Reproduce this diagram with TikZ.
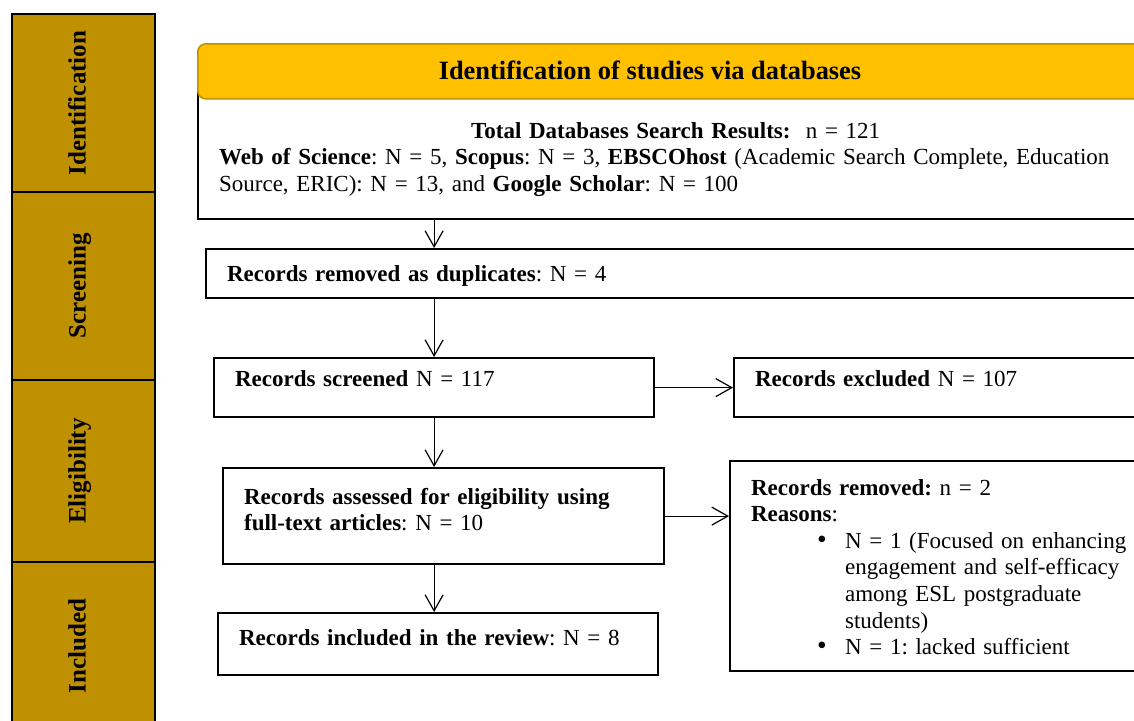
\documentclass[tikz,border=0pt]{standalone}
\usepackage{fontspec}
\setmainfont{Liberation Serif}
\usetikzlibrary{arrows.meta}
\definecolor{stagegold}{HTML}{BF9000}
\definecolor{bargold}{HTML}{FFC000}
\frenchspacing
\begin{document}
\begin{tikzpicture}[x=0.5pt,y=-0.5pt,>={Straight Barb[length=8pt,width=9pt]},
    font=\fontsize{11.5}{13.3}\selectfont,
    stage/.style={draw,line width=1pt,fill=stagegold,rotate=90,minimum height=71.5pt,inner sep=0pt,text height=9pt,text depth=7pt,font=\fontsize{12.5}{14}\selectfont\bfseries},
    bar/.style={draw=stagegold,line width=0.8pt,fill=bargold,rounded corners=4pt,anchor=north west,minimum width=480pt,minimum height=27.5pt},
    box/.style={draw,line width=1.1pt,anchor=north west,align=left,inner xsep=10.5pt,inner ysep=6pt,text height=10pt},
    link/.style={->,line width=0.6pt}]
    \useasboundingbox (0,0) rectangle (1134,720);
    \clip (0,0) rectangle (1134,720);
    % stages on the left
    \node[stage,minimum width=89pt] (ident) at (83.5,103) {Identification};
    \node[stage,minimum width=94pt] (scree) at (83.5,286) {Screening};
    \node[stage,minimum width=91pt] (eligi) at (83.5,471) {Eligibility};
    \node[stage,minimum width=84pt] (inclu) at (83.5,646) {Included};
    % boxes
    \node[box,text width=460pt,text height=17.5pt,text depth=34.5pt] (search) at (197,90)
        {\hspace*{126pt}\textbf{Total Databases Search Results:}~ n = 121\\
        \textbf{Web of Science}: N = 5, \textbf{Scopus}: N = 3, \textbf{EBSCOhost} (Academic Search Complete, Education\\
        Source, ERIC): N = 13, and \textbf{Google Scholar}: N = 100};
    \node[bar] (head) at (197,43) {};
    \node[font=\fontsize{13.2}{15}\selectfont\bfseries] (headtext) at (650,70) {Identification of studies via databases};
    \node[box,text width=452pt,text depth=2.5pt] (dup) at (205,248) {\textbf{Records removed as duplicates}: N = 4};
    \node[box,text width=199pt,text height=8pt,text depth=9.5pt] (screen) at (213,357) {\textbf{Records screened} N = 117};
    \node[box,text width=200pt,text height=8pt,text depth=9.5pt] (excl) at (733,357) {\textbf{Records excluded} N = 107};
    \node[box,text width=199.5pt,text height=12pt,text depth=24pt] (assess) at (222,467)
        {\textbf{Records assessed for eligibility using}\\
        \textbf{full-text articles}: N = 10};
    \node[box,text width=199pt,text depth=9pt] (incl) at (217,612) {\textbf{Records included in the review}: N = 8};
    \node[box,text width=200pt,text height=11pt,text depth=82pt] (removed) at (729,460)
        {\textbf{Records removed:} n = 2\\
        \textbf{Reasons}:\\
        \hspace*{33pt}\makebox[14pt][l]{\scalebox{1.2}{\textbullet}}N = 1 (Focused on enhancing\\
        \hspace*{47pt}engagement and self-efficacy\\
        \hspace*{47pt}among ESL postgraduate\\
        \hspace*{47pt}students)\\
        \hspace*{33pt}\makebox[14pt][l]{\scalebox{1.2}{\textbullet}}N = 1: lacked sufficient};
    % arrows
    \draw[link] (search.south -| screen.north) -- (dup.north -| screen.north);
    \draw[link] (dup.south -| screen.north) -- (screen.north);
    \draw[link] (screen.east) -- (screen.east -| excl.west);
    \draw[link] (screen.south) -- (assess.north -| screen.south);
    \draw[link] (assess.east) -- (assess.east -| removed.west);
    \draw[link] (assess.south -| screen.south) -- (incl.north -| screen.south);
\end{tikzpicture}
\end{document}
